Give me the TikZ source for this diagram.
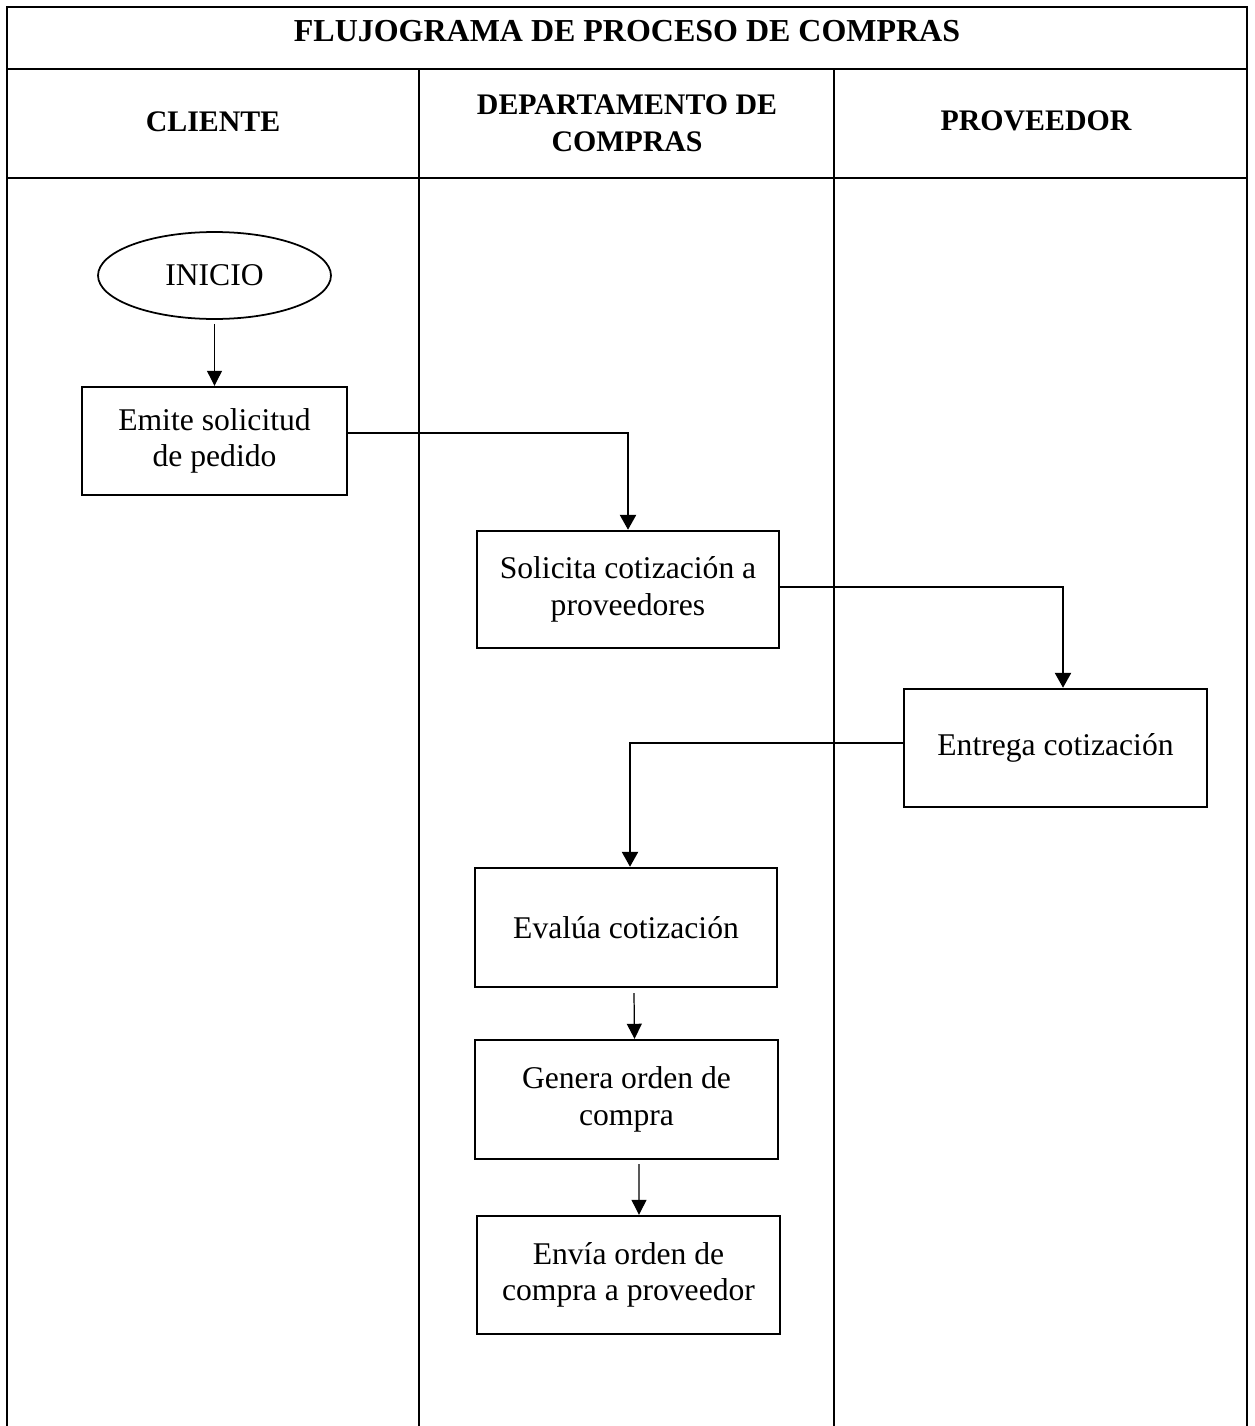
\documentclass[tikz,border=0pt]{standalone}
\usepackage{fontspec}
\setmainfont{Liberation Serif}
\usetikzlibrary{arrows.meta,shapes.geometric}
\begin{document}
\begin{tikzpicture}[x=0.02cm,y=-0.02cm,
  frame/.style={line width=1.5pt},
  box/.style={draw, line width=1.4pt, align=center, inner sep=0pt, font=\fontsize{18}{20.7}\selectfont},
  conn/.style={line width=1.4pt, -{Triangle[width=0.32cm,length=0.3cm]}},
  thinarrow/.style={line width=0.7pt, -{Triangle[width=0.3cm,length=0.3cm]}},
  titlestyle/.style={font=\bfseries\fontsize{18.2}{21}\selectfont},
  headstyle/.style={font=\bfseries\fontsize{17}{21}\selectfont, align=center}]
\useasboundingbox (0,0) rectangle (1254,1426);
% table
\draw[frame] (7,1426) -- (7,7) -- (1247,7) -- (1247,1426);
\draw[frame] (7,69) -- (1247,69);
\draw[frame] (7,178) -- (1247,178);
\draw[frame] (419,69) -- (419,1426);
\draw[frame] (834,69) -- (834,1426);
% headings
\node[titlestyle, anchor=base] (ttl) at (627,42) {FLUJOGRAMA DE PROCESO DE COMPRAS};
\node[headstyle, anchor=base] (hcli) at (213,132) {CLIENTE};
\node[headstyle] (hdep) at (627,123) {DEPARTAMENTO DE\\COMPRAS};
\node[headstyle, anchor=base] (hpro) at (1036,131) {PROVEEDOR};
% nodes
\node[draw, ellipse, line width=1pt, inner sep=0pt, minimum width=4.66cm, minimum height=1.74cm, font=\fontsize{18}{20.7}\selectfont] (ini) at (214.5,275.5) {INICIO};
\node[box, minimum width=5.3cm, minimum height=2.16cm] (emite) at (214.5,441) {Emite solicitud\\de pedido};
\node[box, minimum width=6.04cm, minimum height=2.34cm] (solic) at (628,589.5) {Solicita cotización a\\proveedores};
\node[box, minimum width=6.06cm, minimum height=2.36cm] (entrega) at (1055.5,748) {Entrega cotización};
\node[box, minimum width=6.04cm, minimum height=2.38cm] (eval) at (626,927.5) {Evalúa cotización};
\node[box, minimum width=6.06cm, minimum height=2.38cm] (gen) at (626.5,1099.5) {Genera orden de\\compra};
\node[box, minimum width=6.06cm, minimum height=2.36cm] (envia) at (628.5,1275) {Envía orden de\\compra a proveedor};
% connectors
\coordinate (k2) at (1063,587);
\coordinate (k3) at (630,743);
\draw[thinarrow] ([yshift=-0.08cm]ini.south) -- (emite.north);
\draw[conn] ([yshift=0.16cm]emite.east) -| (solic.north);
\draw[conn] (solic.east |- k2) -- (k2) -- (k2 |- entrega.north);
\draw[conn] (entrega.west |- k3) -- (k3) -- (k3 |- eval.north);
\draw[thinarrow] ([xshift=0.16cm,yshift=-0.1cm]eval.south) -- ([xshift=0.16cm]gen.north);
\draw[thinarrow] ([xshift=0.25cm,yshift=-0.08cm]gen.south) -- ([xshift=0.21cm]envia.north);
\end{tikzpicture}
\end{document}
